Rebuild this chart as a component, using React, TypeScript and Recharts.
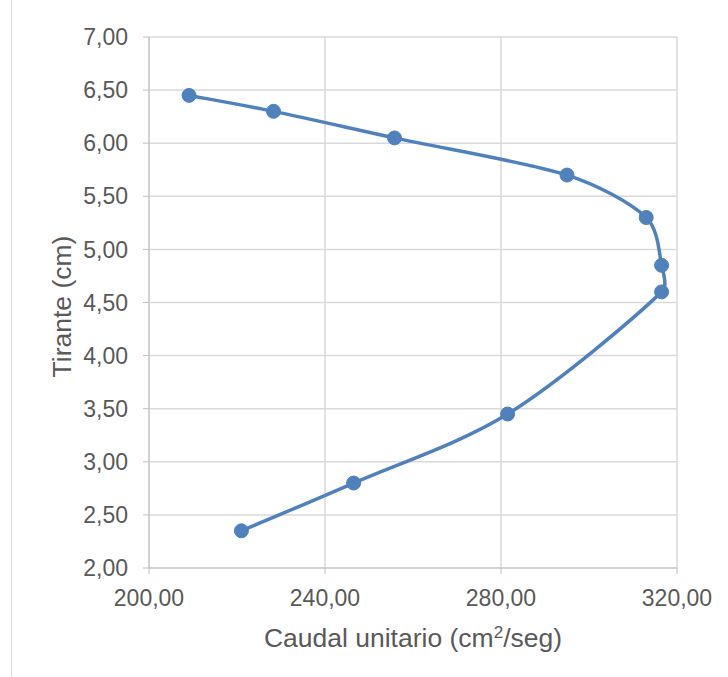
import { ComposedChart, Line, XAxis, YAxis, CartesianGrid } from 'recharts'

// Tirante (cm) vs caudal unitario (cm2/seg), ordered by tirante
const caudal = [221.0, 246.5, 281.5, 316.5, 316.5, 313.0, 295.0, 255.8, 228.3, 209.1]
const tirante = [2.35, 2.80, 3.45, 4.60, 4.85, 5.30, 5.70, 6.05, 6.30, 6.45]

const xTicks = [200, 240, 280, 320]
const yTicks = [2, 2.5, 3, 3.5, 4, 4.5, 5, 5.5, 6, 6.5, 7]

const data = tirante.map((y, i) => ({ x: caudal[i], y }))

const fmt = (v: number) => v.toFixed(2).replace('.', ',')
const font = 'Liberation Sans, Arial, sans-serif'
const textColor = '#595959'
const blue = '#4f81bd'

// Excel-like smoothed line: Catmull-Rom tangents, handles capped on short segments
const smoothCurve = (ctx: any) => {
    let pts: number[][] = []
    const handle = (dx: number, dy: number, max: number) => {
        const len = Math.hypot(dx, dy)
        const k = len > max && len > 0 ? max / len : 1
        return [dx * k, dy * k]
    }
    return {
        areaStart() {},
        areaEnd() {},
        lineStart() { pts = [] },
        point(x: number, y: number) { pts.push([x, y]) },
        lineEnd() {
            if (!pts.length) return
            ctx.moveTo(pts[0][0], pts[0][1])
            for (let i = 0; i < pts.length - 1; i++) {
                const p0 = pts[Math.max(i - 1, 0)]
                const p1 = pts[i]
                const p2 = pts[i + 1]
                const p3 = pts[Math.min(i + 2, pts.length - 1)]
                const seg = Math.hypot(p2[0] - p1[0], p2[1] - p1[1]) / 3
                const a = handle((p2[0] - p0[0]) / 6, (p2[1] - p0[1]) / 6, seg)
                const b = handle((p3[0] - p1[0]) / 6, (p3[1] - p1[1]) / 6, seg)
                ctx.bezierCurveTo(p1[0] + a[0], p1[1] + a[1], p2[0] - b[0], p2[1] - b[1], p2[0], p2[1])
            }
        },
    }
}

const XTitle = ({ viewBox }: any) => {
    const cx = viewBox.x + viewBox.width / 2
    return (
        <text x={cx} y={viewBox.y + 79} textAnchor="middle" fill={textColor} fontSize={26.5} fontFamily={font}>
            Caudal unitario (cm<tspan dy={-9} fontSize={17}>2</tspan><tspan dy={9}>/seg)</tspan>
        </text>
    )
}

const YTitle = ({ viewBox }: any) => {
    const cy = viewBox.y + viewBox.height / 2 + 4
    const x = 62
    return (
        <text x={x} y={cy} transform={`rotate(-90 ${x} ${cy})`} textAnchor="middle" dominantBaseline="central"
            fill={textColor} fontSize={26.5} fontFamily={font}>
            Tirante (cm)
        </text>
    )
}

export default function App() {
    return (
        <div style={{ position: 'absolute', left: 0, top: 0, width: 728, height: 677, background: '#fff' }}>
            <div style={{ position: 'absolute', left: 11, top: 0, width: 1, height: 677, background: '#d9d9d9' }} />
            <ComposedChart
                width={728}
                height={677}
                data={data}
                layout="vertical"
                margin={{ top: 37, right: 51, bottom: 0, left: 0 }}
            >
                <CartesianGrid stroke="#d9d9d9" strokeWidth={1.5} />
                <XAxis
                    type="number"
                    dataKey="x"
                    domain={[200, 320]}
                    ticks={xTicks}
                    tickFormatter={fmt}
                    height={109}
                    stroke="#bfbfbf"
                    tickSize={6}
                    tickMargin={16}
                    tick={{ fill: textColor, fontSize: 23, fontFamily: font }}
                    allowDataOverflow
                    label={<XTitle />}
                />
                <YAxis
                    type="number"
                    dataKey="y"
                    reversed
                    domain={[2, 7]}
                    ticks={yTicks}
                    tickFormatter={fmt}
                    width={149}
                    stroke="#bfbfbf"
                    tickSize={6}
                    tickMargin={15}
                    tick={{ fill: textColor, fontSize: 23, fontFamily: font }}
                    allowDataOverflow
                    label={<YTitle />}
                />
                <Line
                    dataKey="x"
                    type={smoothCurve as any}
                    stroke={blue}
                    strokeWidth={3.5}
                    dot={{ r: 7, fill: blue, stroke: blue, strokeWidth: 1 }}
                    activeDot={false}
                    isAnimationActive={false}
                />
            </ComposedChart>
        </div>
    )
}
